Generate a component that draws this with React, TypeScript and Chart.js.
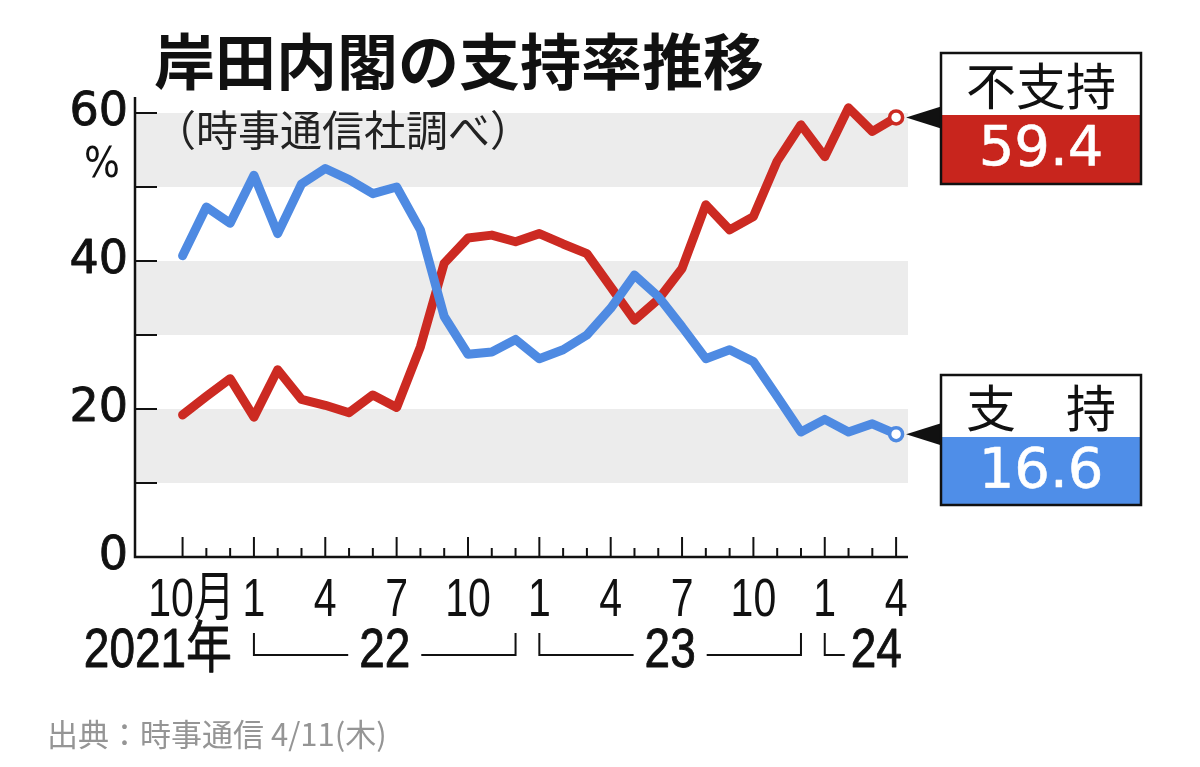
import { useEffect, useRef } from 'react';
import { Chart, registerables } from 'chart.js';

Chart.register(...registerables);

// ---- data ----
const monthNums = [10, 11, 12, 1, 2, 3, 4, 5, 6, 7, 8, 9, 10, 11, 12, 1, 2, 3, 4, 5, 6, 7, 8, 9, 10, 11, 12, 1, 2, 3, 4];
const tickLabels = ['10月', '', '', '1', '', '', '4', '', '', '7', '', '', '10', '', '', '1', '', '', '4', '', '', '7', '', '', '10', '', '', '1', '', '', '4'];
const yearLabels = ['2021年', '22', '23', '24'];
const yTickLabels = [0, 20, 40, 60];
const bandRanges = [[10, 20], [30, 40], [50, 60]];

const support = [40.7, 47.3, 45.1, 51.6, 43.7, 50.4, 52.5, 51.0, 49.1, 50.0, 44.2, 32.5, 27.4, 27.7, 29.4, 26.8, 28.0, 30.0, 33.6, 38.1, 35.2, 31.1, 26.8, 28.0, 26.4, 21.7, 16.9, 18.6, 16.9, 18.0, 16.6];
const nonSupport = [19.2, 21.7, 24.1, 18.9, 25.3, 21.3, 20.5, 19.5, 21.9, 20.2, 28.4, 39.7, 43.1, 43.5, 42.6, 43.7, 42.3, 41.0, 36.5, 32.0, 34.8, 39.0, 47.6, 44.2, 46.0, 53.5, 58.4, 54.1, 60.7, 57.5, 59.4];

const titleText = '岸田内閣の支持率推移';
const subtitleText = '（時事通信社調べ）';
const sourceText = '出典：時事通信 4/11(木)';
const supportName = '支　持';
const nonSupportName = '不支持';

const RED = '#cc2a22';
const BLUE = '#4e8ae2';
const BOX_RED = '#c8251d';
const BOX_BLUE = '#4f8ee8';
const JP = '"Noto Sans CJK JP", "Noto Sans", sans-serif';
const NUM = '"DejaVu Sans", "Noto Sans CJK JP", sans-serif';
const NUM2 = '"Liberation Sans", "Noto Sans CJK JP", sans-serif';

function drawText(ctx: CanvasRenderingContext2D, text: string, x: number, y: number, font: string, color: string, align: CanvasTextAlign, sx = 1, sw = 0) {
  ctx.save();
  ctx.font = font;
  ctx.fillStyle = color;
  ctx.textAlign = align;
  ctx.textBaseline = 'middle';
  ctx.translate(x, y);
  ctx.scale(sx, 1);
  ctx.fillText(text, 0, 0);
  if (sw > 0) {
    ctx.strokeStyle = color;
    ctx.lineWidth = sw;
    ctx.lineJoin = 'round';
    ctx.strokeText(text, 0, 0);
  }
  ctx.restore();
}

const decor = {
  id: 'decor',
  beforeDatasetsDraw(chart: any) {
    const { ctx, chartArea, scales } = chart;
    const xs = scales.x, ys = scales.y;
    const left = chartArea.left, right = chartArea.right;
    ctx.save();
    ctx.fillStyle = '#ececec';
    for (const [a, b] of bandRanges) {
      const y1 = ys.getPixelForValue(b), y2 = ys.getPixelForValue(a);
      ctx.fillRect(left, y1, right - left, y2 - y1);
    }
    const y0 = ys.getPixelForValue(0);
    ctx.strokeStyle = '#111';
    ctx.lineWidth = 2.5;
    ctx.beginPath();
    ctx.moveTo(left, 97);
    ctx.lineTo(left, y0);
    ctx.lineTo(right, y0);
    ctx.stroke();
    ctx.lineWidth = 2;
    for (let v = 10; v <= 60; v += 10) {
      const y = ys.getPixelForValue(v);
      ctx.beginPath();
      ctx.moveTo(left, y);
      ctx.lineTo(left + 22, y);
      ctx.stroke();
    }
    tickLabels.forEach((lab, i) => {
      const x = xs.getPixelForValue(i);
      const h = lab ? 20 : 9;
      ctx.beginPath();
      ctx.moveTo(x, y0);
      ctx.lineTo(x, y0 - h);
      ctx.stroke();
    });
    ctx.restore();
  },
  afterDraw(chart: any) {
    const { ctx, scales } = chart;
    const xs = scales.x, ys = scales.y;
    // title & subtitle
    drawText(ctx, titleText, 154, 62, `bold 61px ${JP}`, '#111', 'left');
    drawText(ctx, subtitleText, 343, 130, `42px ${JP}`, '#222', 'center');
    // y labels
    for (const v of yTickLabels) {
      drawText(ctx, String(v), 128, ys.getPixelForValue(v), `46px ${NUM}`, '#111', 'right', 1, 0.9);
    }
    drawText(ctx, '%', 102, 166, `42px ${NUM}`, '#111', 'center', 0.9);
    // x labels
    tickLabels.forEach((lab, i) => {
      if (!lab) return;
      const x = xs.getPixelForValue(i) + (lab.endsWith('月') ? 9 : 0);
      drawText(ctx, lab, x, 601, `54px ${NUM2}`, '#111', 'center', 0.76);
    });
    // year row
    const starts: number[] = [0];
    monthNums.forEach((m, i) => { if (i > 0 && m === 1) starts.push(i); });
    const yRow = 652, yLine = 655, yTop = 633;
    ctx.save();
    const font = `56px ${NUM2}`;
    const sx = 0.82;
    const sw = 0.9;
    yearLabels.forEach((lab, g) => {
      const s = starts[g];
      const e = g + 1 < starts.length ? starts[g + 1] - 1 : monthNums.length - 1;
      if (g === 0) {
        drawText(ctx, lab, xs.getPixelForValue(starts[1]) - 22, yRow, font, '#111', 'right', sx, sw);
        return;
      }
      const xa = xs.getPixelForValue(s), xb = xs.getPixelForValue(e);
      ctx.strokeStyle = '#111';
      ctx.lineWidth = 2;
      if (e - s >= 11) {
        const mid = (xa + xb) / 2;
        ctx.save();
        ctx.font = font;
        const w = ctx.measureText(lab).width * sx;
        ctx.restore();
        ctx.beginPath();
        ctx.moveTo(xa, yTop); ctx.lineTo(xa, yLine); ctx.lineTo(mid - w / 2 - 11, yLine);
        ctx.moveTo(mid + w / 2 + 11, yLine); ctx.lineTo(xb, yLine); ctx.lineTo(xb, yTop);
        ctx.stroke();
        drawText(ctx, lab, mid, yRow, font, '#111', 'center', sx, sw);
      } else {
        ctx.beginPath();
        ctx.moveTo(xa, yTop); ctx.lineTo(xa, yLine); ctx.lineTo(xa + 20, yLine);
        ctx.stroke();
        drawText(ctx, lab, xa + 26, yRow, font, '#111', 'left', sx, sw);
      }
    });
    ctx.restore();
    // source
    drawText(ctx, sourceText, 47, 734, `31px ${JP}`, '#959595', 'left');
    // boxes + arrows
    const L = 941, R = 1141;
    const last = monthNums.length - 1;
    const xLast = xs.getPixelForValue(last);
    const boxes = [
      { top: 53, split: 115, bottom: 184, color: BOX_RED, name: nonSupportName, value: nonSupport[last] },
      { top: 375, split: 437, bottom: 505, color: BOX_BLUE, name: supportName, value: support[last] },
    ];
    for (const b of boxes) {
      const yl = ys.getPixelForValue(b.value);
      ctx.save();
      ctx.fillStyle = '#111';
      ctx.beginPath();
      ctx.moveTo(xLast + 10, yl);
      ctx.lineTo(L, yl - 11);
      ctx.lineTo(L, yl + 11);
      ctx.closePath();
      ctx.fill();
      ctx.fillStyle = '#fff';
      ctx.fillRect(L, b.top, R - L, b.split - b.top);
      ctx.fillStyle = b.color;
      ctx.fillRect(L, b.split, R - L, b.bottom - b.split);
      ctx.strokeStyle = '#111';
      ctx.lineWidth = 2.5;
      ctx.strokeRect(L, b.top, R - L, b.bottom - b.top);
      ctx.restore();
      drawText(ctx, b.name, (L + R) / 2, (b.top + b.split) / 2 + 2, `50px ${JP}`, '#111', 'center');
      drawText(ctx, b.value.toFixed(1), (L + R) / 2, (b.split + b.bottom) / 2 + 1, `56px ${NUM}`, '#fff', 'center', 1, 0.6);
    }
  },
};

export default function App() {
  const ref = useRef<HTMLCanvasElement>(null);
  useEffect(() => {
    const lastIdx = monthNums.length - 1;
    const mk = (vals: number[], color: string, label: string) => ({
      label,
      data: vals.map((v, i) => ({ x: i, y: v })),
      borderColor: color,
      backgroundColor: color,
      borderWidth: 9,
      borderJoinStyle: 'round' as const,
      borderCapStyle: 'round' as const,
      tension: 0,
      clip: false as any,
      pointRadius: vals.map((_, i) => (i === lastIdx ? 6.5 : 0)),
      pointBackgroundColor: '#fff',
      pointBorderColor: color,
      pointBorderWidth: 3.5,
    });
    const chart = new Chart(ref.current!, {
      type: 'line',
      data: {
        datasets: [mk(support, BLUE, supportName), mk(nonSupport, RED, nonSupportName)],
      },
      options: {
        responsive: false,
        animation: false,
        devicePixelRatio: 1,
        layout: { padding: { left: 135, right: 292, top: 113, bottom: 210 } },
        scales: {
          x: { type: 'linear', min: -2, max: 30.5, display: false },
          y: { min: 0, max: 60, display: false },
        },
        plugins: { legend: { display: false }, tooltip: { enabled: false } },
      },
      plugins: [decor],
    });
    return () => chart.destroy();
  }, []);
  return (
    <div style={{ position: 'absolute', left: 0, top: 0, width: 1200, height: 767, background: '#fff' }}>
      <canvas ref={ref} width={1200} height={767} style={{ display: 'block' }} />
    </div>
  );
}
